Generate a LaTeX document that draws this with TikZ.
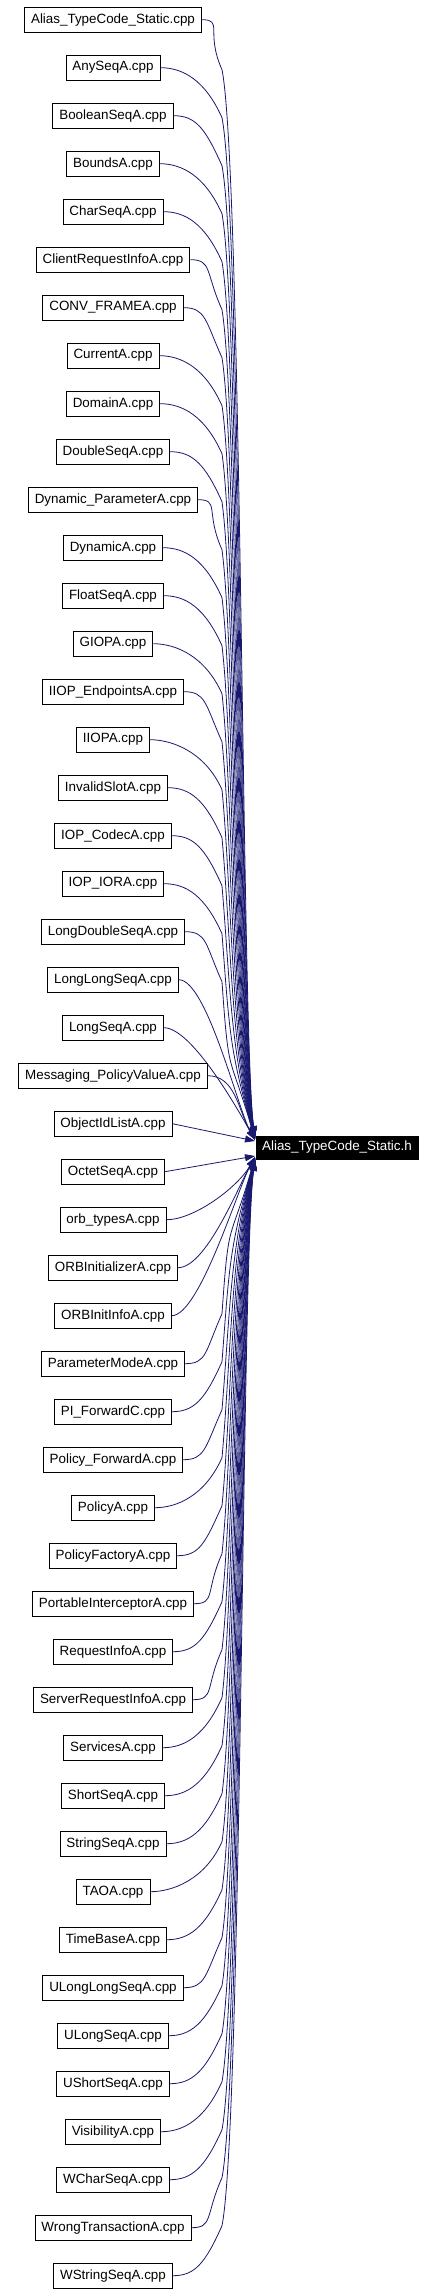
\documentclass[tikz,border=0pt]{standalone}
\usepackage{fontspec}
\setmainfont{Liberation Sans}
\usetikzlibrary{arrows.meta}
\definecolor{edgecol}{HTML}{191970}
\begin{document}
\begin{tikzpicture}[x=1pt,y=-1pt,
  src/.style={draw=black,line width=0.8pt,fill=white,inner xsep=6.5pt,inner ysep=0pt,minimum height=25pt,font=\fontsize{13.4}{15}\selectfont},
  tgt/.style={draw=black,line width=0.8pt,fill=black,text=white,inner xsep=5.8pt,inner ysep=0pt,minimum height=23pt,minimum width=162pt,font=\fontsize{13.4}{15}\selectfont},
  edge/.style={draw=edgecol,line width=0.8pt,-{Triangle[length=10pt,width=7pt]}}]
\useasboundingbox (0,0) rectangle (435,2294);
\fill[white] (0,0) rectangle (435,2294);
\foreach \t [count=\i] in {Alias\_TypeCode\_Static.cpp,AnySeqA.cpp,BooleanSeqA.cpp,BoundsA.cpp,CharSeqA.cpp,ClientRequestInfoA.cpp,CONV\_FRAMEA.cpp,CurrentA.cpp,DomainA.cpp,DoubleSeqA.cpp,Dynamic\_ParameterA.cpp,DynamicA.cpp,FloatSeqA.cpp,GIOPA.cpp,IIOP\_EndpointsA.cpp,IIOPA.cpp,InvalidSlotA.cpp,IOP\_CodecA.cpp,IOP\_IORA.cpp,LongDoubleSeqA.cpp,LongLongSeqA.cpp,LongSeqA.cpp,Messaging\_PolicyValueA.cpp,ObjectIdListA.cpp,OctetSeqA.cpp,orb\_typesA.cpp,ORBInitializerA.cpp,ORBInitInfoA.cpp,ParameterModeA.cpp,PI\_ForwardC.cpp,Policy\_ForwardA.cpp,PolicyA.cpp,PolicyFactoryA.cpp,PortableInterceptorA.cpp,RequestInfoA.cpp,ServerRequestInfoA.cpp,ServicesA.cpp,ShortSeqA.cpp,StringSeqA.cpp,TAOA.cpp,TimeBaseA.cpp,ULongLongSeqA.cpp,ULongSeqA.cpp,UShortSeqA.cpp,VisibilityA.cpp,WCharSeqA.cpp,WrongTransactionA.cpp,WStringSeqA.cpp}
{
  \pgfmathsetmacro\yy{19.7+(\i-1)*48}
  \node[src] (n\i) at (113,\yy) {\t};
}
\node[tgt] (t) at (337,1147.5) {Alias\_TypeCode\_Static.h};
\foreach \i in {1,...,48} {
  \pgfmathsetmacro\ys{19.7+(\i-1)*48}
  \pgfmathsetmacro\ty{\i<24 ? 1136+(\i-1)*4/22 : (\i==24 ? 1141 : (\i==25 ? 1156 : 1157+(\i-26)*4/22))}
  \pgfmathsetmacro\sg{\ys<\ty ? 1 : -1}
  \pgfmathsetmacro\dd{abs(\ys-\ty)}
  \pgfmathtruncatemacro\kind{\dd<30 ? 0 : (\dd<200 ? 1 : 2)}
  \ifcase\kind
    \draw[edge] (n\i.east) -- (255,\ty);
  \or
    \pgfmathsetmacro\yq{\ty-\sg*30}
    \draw[edge] (n\i.east) .. controls +(28,0) and (238,\yq) .. (255,\ty);
  \or
    \pgfmathsetmacro\yb{\ys+\sg*12}
    \pgfmathsetmacro\yc{\ys+\sg*50}
    \pgfmathsetmacro\yd{\ys+\sg*150}
    \pgfmathsetmacro\ye{\ty-\sg*90}
    \pgfmathsetmacro\xv{226+\dd/1130*16}
    \draw[edge] (n\i.east) .. controls +(22,0) and (205,\yb) .. (222,\yc) .. controls (\xv,\yd) and (\xv,\ye) .. (255,\ty);
  \fi
}
\end{tikzpicture}
\end{document}
